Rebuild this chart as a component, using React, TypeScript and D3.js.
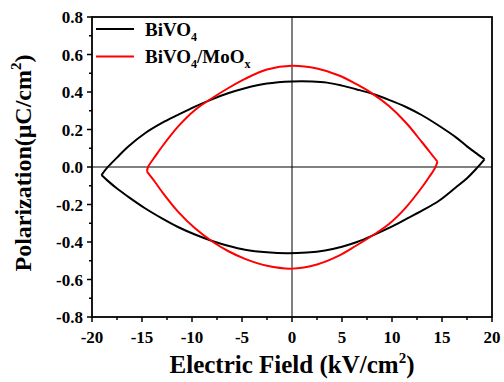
import React from "react";
import * as d3 from "d3";

// Hysteresis loops: each branch is a list of [E (kV/cm²), P (μC/cm²)] points
const bivo4Upper: [number, number][] = [
  [-19.05, -0.043], [-18.5, -0.005], [-17.5, 0.05], [-16.4, 0.108], [-14.7, 0.18],
  [-13, 0.235], [-11.4, 0.278], [-9.7, 0.322], [-8.2, 0.357], [-6.4, 0.393], [-4.7, 0.42],
  [-2.5, 0.445], [0, 0.456], [2, 0.456], [3.5, 0.45], [5, 0.434], [6.4, 0.415],
  [7.9, 0.393], [9.7, 0.358], [11.4, 0.32], [13, 0.276], [14.7, 0.22], [16.4, 0.158],
  [17.5, 0.11], [18.5, 0.07], [19.25, 0.041],
];
const bivo4Lower: [number, number][] = [
  [-19.05, -0.043], [-18.5, -0.07], [-17.5, -0.115], [-16.4, -0.158], [-14.7, -0.22],
  [-13, -0.274], [-11.4, -0.32], [-9.7, -0.36], [-7.9, -0.396], [-6.4, -0.42],
  [-4.7, -0.441], [-2.5, -0.455], [-0.5, -0.46], [1.5, -0.456], [3.3, -0.445],
  [5, -0.425], [6.5, -0.4], [8.2, -0.362], [9.7, -0.325], [11.4, -0.278], [13, -0.233],
  [14.7, -0.18], [16.4, -0.108], [17.5, -0.06], [18.5, -0.005], [19.25, 0.041],
];
const moUpper: [number, number][] = [
  [-14.5, -0.025], [-14.4, 0], [-13.7, 0.055], [-13, 0.108], [-11.4, 0.215], [-9.7, 0.304],
  [-8.2, 0.36], [-6.4, 0.42], [-4.7, 0.47], [-2.5, 0.52], [0, 0.54], [2.5, 0.525],
  [4.7, 0.488], [6.4, 0.443], [8, 0.393], [9.7, 0.325], [11.4, 0.236],
  [13, 0.132], [14, 0.065], [14.55, 0.028],
];
const moLower: [number, number][] = [
  [-14.5, -0.025], [-13.7, -0.08], [-13, -0.132], [-11.4, -0.238], [-9.7, -0.327],
  [-7.9, -0.4], [-6.4, -0.448], [-4.7, -0.49], [-2.5, -0.527], [0, -0.542], [2.5, -0.52],
  [4.7, -0.473], [6.4, -0.42], [8.2, -0.36], [9.7, -0.304], [11.4, -0.215], [13, -0.108],
  [13.7, -0.055], [14.3, -0.005], [14.55, 0.028],
];

const xTicks = [-20, -15, -10, -5, 0, 5, 10, 15, 20];
const xMinor = [-17.5, -12.5, -7.5, -2.5, 2.5, 7.5, 12.5, 17.5];
const yTicks = [-0.8, -0.6, -0.4, -0.2, 0, 0.2, 0.4, 0.6, 0.8];
const yMinor = [-0.7, -0.5, -0.3, -0.1, 0.1, 0.3, 0.5, 0.7];

const W = 504;
const H = 382;
const left = 92, right = 492, top = 17, bottom = 317;
const font = "'Liberation Serif', 'Times New Roman', serif";

export default function App() {
  const x = d3.scaleLinear().domain([-20, 20]).range([left, right]);
  const y = d3.scaleLinear().domain([-0.8, 0.8]).range([bottom, top]);
  const line = d3
    .line<[number, number]>()
    .x((d) => x(d[0]))
    .y((d) => y(d[1]))
    .curve(d3.curveCatmullRom.alpha(0.5));

  const series = [
    { upper: bivo4Upper, lower: bivo4Lower, color: "#000000" },
    { upper: moUpper, lower: moLower, color: "#ff0000" },
  ];

  return (
    <svg
      width={W}
      height={H}
      style={{ position: "absolute", left: 0, top: 0, background: "#fff" }}
      fontFamily={font}
      fontWeight="bold"
    >
      <rect width={W} height={H} fill="#fff" />
      {/* zero lines */}
      <line x1={x(0)} x2={x(0)} y1={top} y2={bottom} stroke="#000" strokeWidth={1} />
      <line x1={left} x2={right} y1={y(0)} y2={y(0)} stroke="#000" strokeWidth={1} />

      {series.map((s, i) => (
        <g key={i} fill="none" stroke={s.color} strokeWidth={2} strokeLinejoin="round">
          <path d={line(s.upper) || ""} />
          <path d={line(s.lower) || ""} />
        </g>
      ))}

      {/* frame */}
      <rect x={left} y={top} width={right - left} height={bottom - top} fill="none" stroke="#000" strokeWidth={1.8} />

      {/* x ticks */}
      {xTicks.map((t) => (
        <g key={"xt" + t}>
          <line x1={x(t)} x2={x(t)} y1={bottom} y2={bottom + 5} stroke="#000" strokeWidth={1.5} />
          <text x={x(t)} y={343} textAnchor="middle" fontSize={17}>
            {t}
          </text>
        </g>
      ))}
      {xMinor.map((t) => (
        <line key={"xm" + t} x1={x(t)} x2={x(t)} y1={bottom} y2={bottom + 3} stroke="#000" strokeWidth={1.5} />
      ))}

      {/* y ticks */}
      {yTicks.map((t) => (
        <g key={"yt" + t}>
          <line x1={left - 5} x2={left} y1={y(t)} y2={y(t)} stroke="#000" strokeWidth={1.5} />
          <text x={83} y={y(t) + 6} textAnchor="end" fontSize={17}>
            {d3.format(".1f")(t).replace("−", "-")}
          </text>
        </g>
      ))}
      {yMinor.map((t) => (
        <line key={"ym" + t} x1={left - 3} x2={left} y1={y(t)} y2={y(t)} stroke="#000" strokeWidth={1.5} />
      ))}

      {/* axis titles */}
      <text x={292} y={373} textAnchor="middle" fontSize={25}>
        Electric Field (kV/cm<tspan dy={-10} fontSize={15}>2</tspan>
        <tspan dy={10}>)</tspan>
      </text>
      <text transform={`translate(31,${163}) rotate(-90)`} textAnchor="middle" fontSize={24}>
        Polarization(μC/cm<tspan dy={-10} fontSize={15}>2</tspan>
        <tspan dy={10}>)</tspan>
      </text>

      {/* legend */}
      <line x1={96} x2={134} y1={29} y2={29} stroke="#000" strokeWidth={2} />
      <text x={145} y={36} fontSize={19}>
        BiVO<tspan dy={5} fontSize={12}>4</tspan>
      </text>
      <line x1={96} x2={134} y1={56.5} y2={56.5} stroke="#ff0000" strokeWidth={2} />
      <text x={145} y={63} fontSize={19}>
        BiVO<tspan dy={5} fontSize={12}>4</tspan>
        <tspan dy={-5}>/MoO</tspan>
        <tspan dy={5} fontSize={12}>x</tspan>
      </text>
    </svg>
  );
}
